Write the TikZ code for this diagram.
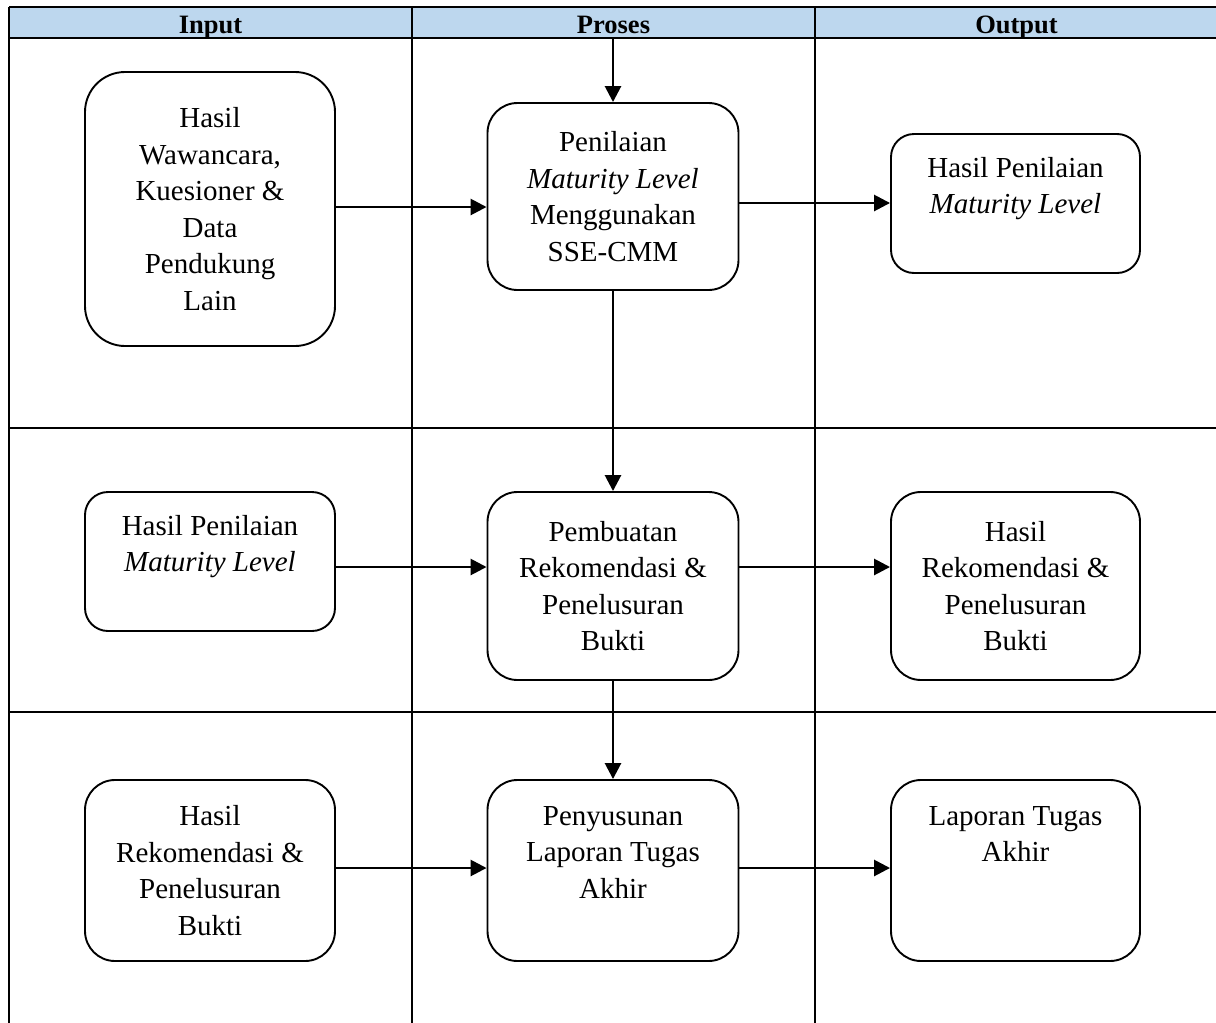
\documentclass[tikz,border=0pt]{standalone}
\usepackage{fontspec}
\setmainfont{Liberation Serif}
\usetikzlibrary{arrows.meta,calc}
\definecolor{hdrblue}{RGB}{189,215,238}
\begin{document}
\begin{tikzpicture}[x=1pt,y=-1pt,
  box/.style={draw, line width=1.9pt, rounded corners=30pt, align=center,
    font=\fontsize{29}{36.5}\selectfont, inner sep=0pt},
  arr/.style={line width=2.7pt, -{Triangle[length=16pt,width=16pt]}},
  gridline/.style={line width=2.9pt},
  hdr/.style={fill=hdrblue, text height=26pt, text depth=5pt, minimum width=403pt, inner sep=0pt,
    font=\fontsize{26.5}{30}\selectfont\bfseries}]
\useasboundingbox (0,0) rectangle (1216,1023);
\clip (0,0) rectangle (1216,1023);
\fill[white] (0,0) rectangle (1216,1023);
% header cells
\node[hdr] (hin)  at (210.5,22.5)  {Input};
\node[hdr] (hpro) at (613.5,22.5)  {Proses};
\node[hdr] (hout) at (1016.5,22.5) {Output};
% grid
\draw[gridline] (9,7) -- (1230,7);
\draw[gridline] (9,38) -- (1230,38);
\draw[gridline] (9,428) -- (1230,428);
\draw[gridline] (9,712) -- (1230,712);
\draw[gridline] (9,7) -- (9,1040);
\draw[gridline] (412,7) -- (412,1040);
\draw[gridline] (815,7) -- (815,1040);
% row 1
\node[box, rounded corners=40pt, minimum width=250pt, minimum height=274pt] (in1) at (210,209)
  {Hasil\\Wawancara,\\Kuesioner \&\\Data\\Pendukung\\Lain};
\node[box, minimum width=251pt, minimum height=187pt] (pr1) at (613,196.5)
  {Penilaian\\\textit{Maturity Level}\\Menggunakan\\SSE-CMM};
\node[box, rounded corners=23pt, minimum width=249pt, minimum height=139pt] (out1) at (1015.5,203.5)
  {Hasil Penilaian\\\textit{Maturity Level}\\\mbox{}};
% row 2
\node[box, rounded corners=23pt, minimum width=250pt, minimum height=139pt] (in2) at (210,561.5)
  {Hasil Penilaian\\\textit{Maturity Level}\\\mbox{}};
\node[box, minimum width=251pt, minimum height=188pt] (pr2) at (613,586)
  {Pembuatan\\Rekomendasi \&\\Penelusuran\\Bukti};
\node[box, minimum width=249pt, minimum height=188pt] (out2) at (1015.5,586)
  {Hasil\\Rekomendasi \&\\Penelusuran\\Bukti};
% row 3
\node[box, minimum width=250pt, minimum height=181pt] (in3) at (210,870.5)
  {Hasil\\Rekomendasi \&\\Penelusuran\\Bukti};
\node[box, minimum width=251pt, minimum height=181pt] (pr3) at (613,870.5)
  {Penyusunan\\Laporan Tugas\\Akhir\\\mbox{}};
\node[box, minimum width=249pt, minimum height=181pt] (out3) at (1015.5,870.5)
  {Laporan Tugas\\Akhir\\\mbox{}\\\mbox{}};
% connectors
\coordinate (a1) at ([yshift=2pt]in1.east);
\coordinate (b1) at ([yshift=-6.5pt]pr1.east);
\coordinate (r2w) at ([yshift=19pt]pr2.west);
\coordinate (r2e) at ([yshift=19pt]pr2.east);
\coordinate (r3w) at ([yshift=2.5pt]pr3.west);
\coordinate (r3e) at ([yshift=2.5pt]pr3.east);
\draw[arr] (hpro.south -| pr1.north) -- (pr1.north);
\draw[arr] (a1) -- (a1 -| pr1.west);
\draw[arr] (b1) -- (b1 -| out1.west);
\draw[arr] (pr1.south) -- (pr2.north);
\draw[arr] (in2.east |- r2w) -- (r2w);
\draw[arr] (r2e) -- (r2e -| out2.west);
\draw[arr] (pr2.south) -- (pr3.north);
\draw[arr] (in3.east |- r3w) -- (r3w);
\draw[arr] (r3e) -- (r3e -| out3.west);
\end{tikzpicture}
\end{document}
